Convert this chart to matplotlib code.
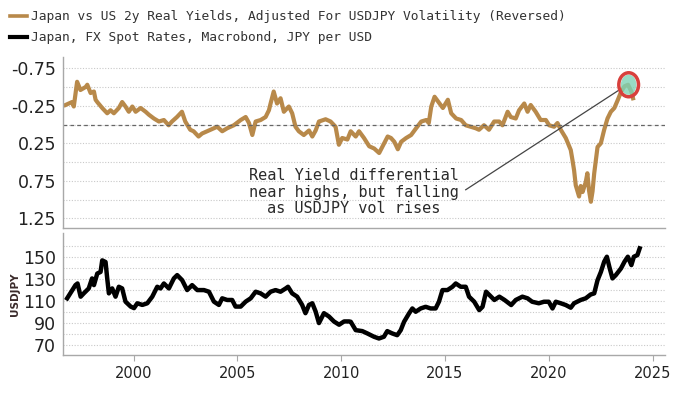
import matplotlib.pyplot as plt
from matplotlib.patches import Ellipse
from matplotlib.lines import Line2D

plt.rcParams['axes.unicode_minus'] = False

# Japan vs US 2y real yield differential, vol adjusted (plotted reversed)
ry_years = [1996.72, 1997.04, 1997.12, 1997.28, 1997.44, 1997.69, 1997.77, 1997.93, 1998.09, 1998.17,
            1998.25, 1998.49, 1998.73, 1998.89, 1999.05, 1999.29, 1999.45, 1999.61, 1999.77, 1999.94,
            2000.10, 2000.34, 2000.58, 2000.74, 2000.98, 2001.22, 2001.46, 2001.69, 2001.85, 2002.09,
            2002.33, 2002.49, 2002.73, 2002.89, 2003.13, 2003.30, 2003.54, 2003.87, 2004.03, 2004.27,
            2004.51, 2004.83, 2005.16, 2005.40, 2005.56, 2005.72, 2005.88, 2006.12, 2006.36, 2006.52,
            2006.60, 2006.75, 2006.91, 2007.08, 2007.24, 2007.48, 2007.64, 2007.80, 2007.96, 2008.20,
            2008.45, 2008.61, 2008.77, 2008.93, 2009.25, 2009.49, 2009.73, 2009.89, 2010.05, 2010.30,
            2010.46, 2010.70, 2010.86, 2011.10, 2011.35, 2011.59, 2011.83, 2012.00, 2012.24, 2012.40,
            2012.56, 2012.73, 2012.89, 2013.13, 2013.37, 2013.61, 2013.86, 2014.10, 2014.22, 2014.34,
            2014.50, 2014.74, 2014.90, 2015.14, 2015.30, 2015.54, 2015.78, 2016.00, 2016.24, 2016.48,
            2016.64, 2016.88, 2017.12, 2017.37, 2017.61, 2017.77, 2018.02, 2018.17, 2018.41, 2018.57,
            2018.82, 2018.98, 2019.13, 2019.37, 2019.61, 2019.86, 2020.02, 2020.26, 2020.42, 2020.58,
            2020.82, 2021.06, 2021.14, 2021.22, 2021.30, 2021.46, 2021.54, 2021.63, 2021.78, 2021.86,
            2021.94, 2022.03, 2022.11, 2022.19, 2022.27, 2022.35, 2022.51, 2022.67, 2022.83, 2022.99,
            2023.16, 2023.33, 2023.49, 2023.65, 2023.82, 2023.98, 2024.06]
ry_values = [-0.26, -0.30, -0.24, -0.57, -0.46, -0.50, -0.53, -0.42, -0.44, -0.33,
             -0.30, -0.22, -0.15, -0.19, -0.15, -0.22, -0.30, -0.24, -0.17, -0.24,
             -0.17, -0.22, -0.17, -0.13, -0.08, -0.04, -0.06, 0.01, -0.04, -0.10,
             -0.17, -0.04, 0.07, 0.09, 0.16, 0.12, 0.09, 0.05, 0.03, 0.09,
             0.05, 0.01, -0.06, -0.10, -0.02, 0.14, -0.04, -0.06, -0.10, -0.19,
             -0.28, -0.44, -0.28, -0.35, -0.17, -0.24, -0.15, 0.03, 0.09, 0.14,
             0.08, 0.16, 0.08, -0.04, -0.07, -0.04, 0.03, 0.27, 0.18, 0.20,
             0.09, 0.16, 0.09, 0.18, 0.29, 0.32, 0.38, 0.29, 0.16, 0.18,
             0.23, 0.33, 0.23, 0.18, 0.14, 0.05, -0.04, -0.06, -0.02, -0.24,
             -0.37, -0.28, -0.22, -0.33, -0.15, -0.08, -0.06, 0.01, 0.03, 0.05,
             0.07, 0.01, 0.07, -0.04, -0.04, 0.01, -0.17, -0.10, -0.08, -0.19,
             -0.28, -0.17, -0.26, -0.17, -0.06, -0.06, 0.01, 0.03, -0.02, 0.07,
             0.18, 0.34, 0.47, 0.61, 0.81, 0.96, 0.82, 0.90, 0.77, 0.65,
             0.88, 1.03, 0.89, 0.65, 0.47, 0.30, 0.25, 0.07, -0.08, -0.17,
             -0.22, -0.33, -0.44, -0.51, -0.53, -0.44, -0.35]

# USDJPY spot
fx_years = [1996.80, 1997.05, 1997.20, 1997.30, 1997.45, 1997.60, 1997.84, 1998.00, 1998.09, 1998.25,
            1998.41, 1998.49, 1998.65, 1998.73, 1998.81, 1998.97, 1999.13, 1999.29, 1999.45, 1999.61,
            1999.86, 2000.02, 2000.18, 2000.42, 2000.66, 2000.90, 2001.14, 2001.30, 2001.46, 2001.70,
            2001.94, 2002.10, 2002.34, 2002.58, 2002.82, 2003.07, 2003.39, 2003.63, 2003.87, 2004.11,
            2004.27, 2004.51, 2004.75, 2004.91, 2005.16, 2005.40, 2005.64, 2005.88, 2006.12, 2006.36,
            2006.60, 2006.84, 2007.08, 2007.33, 2007.44, 2007.64, 2007.88, 2008.12, 2008.28, 2008.45,
            2008.61, 2008.77, 2008.93, 2009.17, 2009.41, 2009.65, 2009.90, 2010.14, 2010.38, 2010.46,
            2010.70, 2011.02, 2011.26, 2011.58, 2011.82, 2012.06, 2012.22, 2012.46, 2012.70, 2012.87,
            2013.03, 2013.27, 2013.43, 2013.59, 2013.83, 2014.07, 2014.31, 2014.55, 2014.71, 2014.88,
            2015.12, 2015.36, 2015.52, 2015.76, 2016.00, 2016.16, 2016.41, 2016.65, 2016.81, 2016.98,
            2017.14, 2017.38, 2017.62, 2017.87, 2018.19, 2018.41, 2018.73, 2018.98, 2019.20, 2019.52,
            2019.77, 2020.00, 2020.18, 2020.34, 2020.58, 2020.82, 2021.06, 2021.22, 2021.54, 2021.78,
            2022.02, 2022.19, 2022.35, 2022.51, 2022.67, 2022.80, 2022.92, 2023.07, 2023.23, 2023.48,
            2023.65, 2023.81, 2023.98, 2024.10, 2024.27, 2024.38]
fx_values = [112.5, 120.0, 124.5, 126.0, 114.0, 117.0, 121.5, 130.6, 124.5, 135.0,
             136.5, 147.0, 145.5, 130.6, 117.0, 121.5, 114.0, 123.0, 121.5, 109.5,
             105.0, 103.6, 108.0, 106.5, 108.0, 114.0, 123.0, 121.5, 126.0, 121.5,
             130.6, 133.6, 129.0, 120.0, 124.5, 120.0, 120.0, 118.5, 109.5, 106.5,
             112.5, 111.0, 111.0, 105.0, 105.0, 109.5, 112.5, 118.5, 117.0, 114.0,
             118.5, 120.0, 118.5, 121.5, 123.0, 117.0, 114.0, 106.5, 99.0, 106.5,
             108.0, 100.5, 90.0, 99.0, 96.0, 91.5, 88.5, 91.5, 91.5, 91.2,
             83.6, 82.7, 80.6, 77.6, 76.0, 77.6, 82.7, 80.6, 79.0, 83.6,
             91.2, 98.8, 103.3, 100.3, 103.3, 104.8, 103.3, 103.3, 109.4, 120.0,
             120.0, 123.0, 126.0, 123.0, 123.0, 114.0, 109.4, 101.8, 104.8, 118.5,
             115.5, 111.0, 114.0, 111.0, 106.4, 111.0, 114.0, 112.5, 109.4, 108.0,
             109.4, 109.4, 103.3, 109.4, 108.0, 106.4, 104.0, 108.0, 111.0, 112.5,
             116.0, 117.0, 129.0, 136.4, 145.8, 150.3, 141.0, 130.6, 133.6, 139.7,
             145.8, 150.3, 142.7, 150.3, 151.8, 157.9]

ry_label = "Japan vs US 2y Real Yields, Adjusted For USDJPY Volatility (Reversed)"
fx_label = "Japan, FX Spot Rates, Macrobond, JPY per USD"
note = "Real Yield differential\nnear highs, but falling\nas USDJPY vol rises"

gold = '#b8894a'
grid_c = '#c9c9c9'
spine_c = '#a8a8a8'

fig = plt.figure(figsize=(7, 3.94), dpi=100)
ax1 = fig.add_axes([0.09, 0.4213, 0.86, 0.434])
ax2 = fig.add_axes([0.09, 0.099, 0.86, 0.310])

ax1.plot(ry_years, ry_values, color=gold, lw=3.0, solid_joinstyle='round')
ax2.plot(fx_years, fx_values, color='black', lw=3.2, solid_joinstyle='round')

for ax in (ax1, ax2):
    ax.set_xlim(1996.6, 2025.6)
    for s in ('top', 'right'):
        ax.spines[s].set_visible(False)
    for s in ('left', 'bottom'):
        ax.spines[s].set_color(spine_c)
        ax.spines[s].set_linewidth(1.0)
    ax.set_axisbelow(True)
    ax.grid(axis='y', color=grid_c, linestyle=(0, (1, 1.5)), lw=0.8)
    ax.tick_params(axis='y', length=0, labelsize=12.5, colors='#222222', pad=5)

ax1.set_ylim(1.38, -0.90)
ax1.set_yticks([-0.75, -0.5, -0.25, 0.0, 0.25, 0.5, 0.75, 1.0, 1.25])
ax1.set_yticklabels(['-0.75', '', '-0.25', '', '0.25', '', '0.75', '', '1.25'])
ax1.axhline(0.0, color='#666666', lw=0.9, linestyle=(0, (3, 2.5)))
ax1.set_xticks([])

ax2.set_ylim(61, 172)
ax2.set_yticks(range(70, 170, 10))
ax2.set_yticklabels([str(v) if v % 20 == 10 else '' for v in range(70, 170, 10)])
ax2.set_xticks(range(2000, 2026, 5))
ax2.tick_params(axis='x', length=4, labelsize=10.5, pad=4, colors=spine_c)
for lab in ax2.get_xticklabels():
    lab.set_color('#222222')
ax2.set_ylabel('USDJPY', fontsize=7.5, fontweight='bold', color='#3a2a2a')
ax2.yaxis.set_label_coords(-0.072, 0.5)

# annotation
ax1.text(2010.6, 0.90, note, ha='center', va='center', multialignment='center',
         family='DejaVu Sans Mono', fontsize=11, color='#2a2a2a', linespacing=1.15)
ax1.plot([2016.0, 2023.39], [0.87, -0.46], color='#444444', lw=0.9)
ax1.add_patch(Ellipse((2023.85, -0.53), 0.75, 0.27, facecolor='#7fd3b6', alpha=0.8,
                      edgecolor='none', zorder=4))
ax1.add_patch(Ellipse((2023.85, -0.53), 0.95, 0.32, facecolor='none',
                      edgecolor='#d8403c', lw=2.5, zorder=5))

handles = [Line2D([], [], color=gold, lw=2.6), Line2D([], [], color='black', lw=3.0)]
fig.legend(handles, [ry_label, fx_label], loc='upper left', bbox_to_anchor=(0.0, 1.0),
           frameon=False, prop={'family': 'DejaVu Sans Mono', 'size': 9.3},
           handlelength=1.3, handletextpad=0.3, labelspacing=0.6, borderaxespad=0.4,
           labelcolor='#333333')

fig.savefig('out.png', dpi=100)
